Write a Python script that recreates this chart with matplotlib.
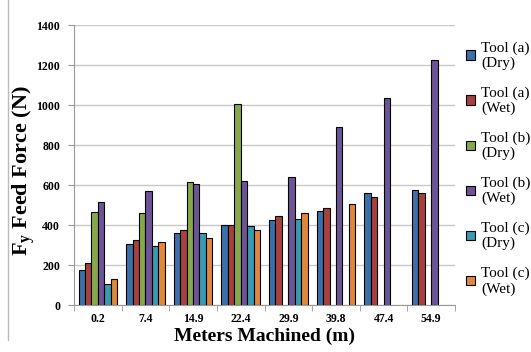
import matplotlib.pyplot as plt
import numpy as np
from matplotlib.lines import Line2D

# Data (NaN = no bar)
meters = ['0.2', '7.4', '14.9', '22.4', '29.9', '39.8', '47.4', '54.9']
a_dry = [173, 303, 360, 400, 423, 472, 558, 577]
a_wet = [210, 325, 377, 400, 447, 483, 538, 560]
b_dry = [465, 458, 617, 1005, np.nan, np.nan, np.nan, np.nan]
b_wet = [515, 572, 607, 620, 642, 892, 1037, 1225]
c_dry = [103, 293, 358, 397, 430, np.nan, np.nan, np.nan]
c_wet = [128, 315, 333, 375, 460, 505, np.nan, np.nan]

series = [a_dry, a_wet, b_dry, b_wet, c_dry, c_wet]
labels = ['Tool (a)\n(Dry)', 'Tool (a)\n(Wet)', 'Tool (b)\n(Dry)',
          'Tool (b)\n(Wet)', 'Tool (c)\n(Dry)', 'Tool (c)\n(Wet)']
colors = ['#3D6FA8', '#A8403D', '#87A94B', '#6E5496', '#3A9AB2', '#E0873A']

plt.rcParams['font.family'] = ['Liberation Serif', 'DejaVu Serif']
plt.rcParams['mathtext.fontset'] = 'custom'
plt.rcParams['mathtext.rm'] = 'Liberation Serif'
plt.rcParams['mathtext.bf'] = 'Liberation Serif:bold'

fig = plt.figure(figsize=(5.31, 3.52), dpi=100)
ax = fig.add_axes([74 / 531, 1 - 305 / 352, 381 / 531, 280 / 352])

x = np.arange(len(meters))
w = 0.135
for i, (vals, c, lab) in enumerate(zip(series, colors, labels)):
    vals = np.array(vals, dtype=float)
    pos = x + (i - 2.5) * w
    ok = ~np.isnan(vals)
    ax.bar(pos[ok], vals[ok], w, color=c, edgecolor='black', linewidth=0.8,
           label=lab, zorder=3)

ax.set_xlim(-0.5, len(meters) - 0.5)
ax.set_ylim(0, 1400)
ax.set_yticks(range(0, 1401, 200))
ax.set_xticks(x)
ax.set_xticklabels(meters, fontweight='bold', fontsize=8.5)
for t in ax.get_yticklabels():
    t.set_fontweight('bold')
    t.set_fontsize(8.5)
ax.set_xticks(np.arange(-0.5, len(meters)), minor=True)
ax.tick_params(axis='x', which='major', length=0, pad=6)
ax.tick_params(axis='x', which='minor', length=4, color='#999999')
ax.tick_params(axis='y', length=4, color='#999999', pad=6)

ax.grid(axis='y', color='#C8C8C8', linewidth=1, zorder=0)
for s in ['top', 'right']:
    ax.spines[s].set_visible(False)
for s in ['left', 'bottom']:
    ax.spines[s].set_color('#999999')

ax.set_xlabel('Meters Machined (m)', fontsize=14, fontweight='bold', labelpad=2)
ax.set_ylabel('$\\mathbf{F_y}$ Feed Force (N)', fontsize=16, fontweight='bold')
ax.yaxis.set_label_coords(-0.098, 0.48)

leg = ax.legend(loc='upper left', bbox_to_anchor=(460 / 531, 1 - 35 / 352),
                bbox_transform=fig.transFigure, frameon=False, fontsize=11,
                handlelength=0.6, handleheight=0.6, handletextpad=0.4,
                labelspacing=1.05, borderaxespad=0)

# left frame border of the original figure
fig.add_artist(Line2D([8 / 531, 8 / 531], [12 / 352, 1], color='#BBBBBB',
                      linewidth=1))

fig.savefig('out.png', dpi=100)
